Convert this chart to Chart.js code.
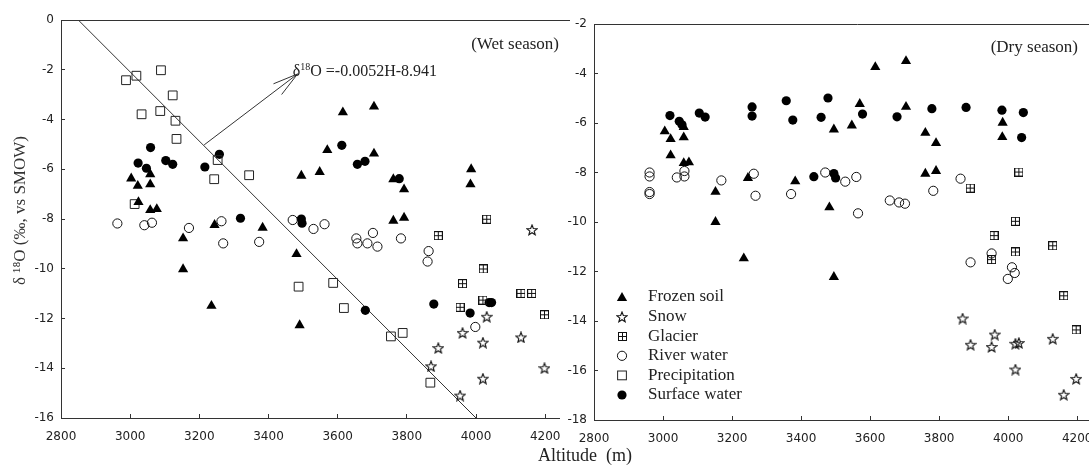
<!DOCTYPE html>
<html><head><meta charset="utf-8">
<script src="https://cdn.jsdelivr.net/npm/chart.js@4.4.1/dist/chart.umd.min.js"></script>
<style>
html,body{margin:0;padding:0;background:#fff;overflow:hidden;width:1089px;height:469px;}
#wrapL{position:absolute;left:0;top:0;width:580px;height:469px;}
#wrapR{position:absolute;left:560px;top:0;width:560px;height:469px;}
#xtitle{position:absolute;left:538px;top:445px;line-height:20px;font-family:'Liberation Serif','Times New Roman',serif;font-size:18px;color:#222;white-space:pre;}
</style></head><body>
<div id="wrapL"><canvas id="cL" width="580" height="469"></canvas></div>
<div id="wrapR"><canvas id="cR" width="560" height="469"></canvas></div>
<div id="xtitle">Altitude  (m)</div>
<script>
// ---------- tick labels ----------
const xTickValues = [2800, 3000, 3200, 3400, 3600, 3800, 4000, 4200];
const wetYTickValues = [0, -2, -4, -6, -8, -10, -12, -14, -16];
const dryYTickValues = [-2, -4, -6, -8, -10, -12, -14, -16, -18];
const seriesNames = ['Frozen soil', 'Snow', 'Glacier', 'River water', 'Precipitation', 'Surface water'];

// ---------- wet season ----------
const wetFrozenX = [3003, 3022, 3024, 3058, 3058, 3058, 3077, 3153, 3153, 3235, 3244, 3383, 3495, 3481, 3490, 3548, 3570, 3615, 3705, 3705, 3761, 3792, 3761, 3792, 3986, 3984];
const wetFrozenY = [-6.37, -6.67, -7.32, -6.2, -6.61, -7.64, -7.6, -8.78, -10.02, -11.49, -8.24, -8.35, -6.26, -9.41, -12.27, -6.11, -5.23, -3.71, -3.48, -5.37, -6.40, -6.81, -8.07, -7.95, -6.0, -6.61];
const wetSnowX = [3870, 3891, 3954, 3961, 4020, 4020, 4031, 4130, 4162, 4198];
const wetSnowY = [-13.92, -13.19, -15.1, -12.58, -12.97, -14.42, -11.93, -12.76, -8.44, -14.0];
const wetGlacierX = [3891, 3954, 3961, 4020, 4021, 4031, 4130, 4161, 4198];
const wetGlacierY = [-8.67, -11.55, -10.6, -11.26, -10.01, -8.01, -10.99, -10.99, -11.85];
const wetRiverX = [2963, 3041, 3063, 3170, 3264, 3269, 3373, 3470, 3530, 3562, 3654, 3657, 3686, 3702, 3715, 3783, 3860, 3863, 3998];
const wetRiverY = [-8.18, -8.25, -8.15, -8.36, -8.09, -8.98, -8.92, -8.04, -8.4, -8.21, -8.78, -8.98, -8.98, -8.56, -9.11, -8.78, -9.71, -9.29, -12.34];
const wetPrecipX = [2988, 3013, 3018, 3033, 3087, 3089, 3123, 3131, 3134, 3243, 3253, 3344, 3487, 3587, 3618, 3754, 3788, 3868];
const wetPrecipY = [-2.42, -7.40, -2.24, -3.79, -3.66, -2.02, -3.03, -4.05, -4.78, -6.40, -5.63, -6.24, -10.72, -10.57, -11.58, -12.72, -12.58, -14.58];
const wetSurfaceX = [3023, 3047, 3059, 3103, 3123, 3216, 3258, 3319, 3495, 3497, 3612, 3657, 3679, 3778, 3680, 3878, 3983, 4038, 4045];
const wetSurfaceY = [-5.75, -5.96, -5.13, -5.65, -5.80, -5.91, -5.40, -7.97, -8.0, -8.17, -5.04, -5.80, -5.68, -6.38, -11.67, -11.42, -11.78, -11.36, -11.36];
// fitted line (as drawn) and arrow annotation
const fitLineX = [2850, 4000];
const fitLineY = [0, -16];
const arrowX = [3214, 3484];
const arrowY = [-5.02, -2.17];
const equationPos = [3470, -2.09];

// ---------- dry season ----------
const dryFrozenX = [3005, 3022, 3022, 3060, 3060, 3060, 3075, 3152, 3152, 3234, 3246, 3383, 3495, 3482, 3495, 3547, 3570, 3615, 3704, 3704, 3760, 3791, 3760, 3791, 3984, 3983];
const dryFrozenY = [-6.34, -6.65, -7.31, -6.16, -6.58, -7.62, -7.59, -8.78, -10.0, -11.47, -8.22, -8.36, -6.26, -9.41, -12.22, -6.1, -5.23, -3.74, -3.5, -5.35, -6.4, -6.81, -8.05, -7.94, -5.99, -6.57];
const drySnowX = [3868, 3891, 3952, 3961, 4021, 4021, 4031, 4129, 4161, 4197];
const drySnowY = [-13.9, -14.96, -15.05, -14.55, -14.92, -15.96, -14.89, -14.72, -16.98, -16.34];
const dryGlacierX = [3890, 3952, 3959, 4021, 4021, 4031, 4129, 4161, 4197];
const dryGlacierY = [-8.63, -11.52, -10.55, -11.21, -9.97, -7.98, -10.96, -12.98, -14.36];
const dryRiverX = [2961, 2961, 2961, 2961, 3040, 3062, 3062, 3169, 3263, 3268, 3371, 3470, 3528, 3560, 3565, 3657, 3684, 3701, 3783, 3862, 3891, 3952, 4011, 4019, 3999];
const dryRiverY = [-8.0, -8.16, -8.79, -8.87, -8.2, -7.94, -8.16, -8.32, -8.05, -8.94, -8.87, -8.0, -8.37, -8.18, -9.65, -9.13, -9.21, -9.26, -8.74, -8.25, -11.63, -11.27, -11.83, -12.06, -12.3];
const dryPrecipX = [];
const dryPrecipY = [];
const drySurfaceX = [3020, 3047, 3055, 3105, 3122, 3258, 3258, 3357, 3376, 3437, 3458, 3478, 3495, 3500, 3578, 3678, 3779, 3878, 3982, 4044, 4039];
const drySurfaceY = [-5.70, -5.93, -6.07, -5.6, -5.76, -5.35, -5.72, -5.10, -5.88, -8.17, -5.77, -4.99, -8.04, -8.22, -5.64, -5.75, -5.42, -5.37, -5.48, -5.58, -6.59];

// ---------- marker images ----------
function makeStar() {
  const c = document.createElement('canvas'); c.width = 12; c.height = 12;
  const g = c.getContext('2d');
  g.strokeStyle = '#111'; g.lineWidth = 1.1; g.lineJoin = 'miter';
  g.beginPath();
  for (let i = 0; i < 10; i++) {
    const r = i % 2 === 0 ? 5.4 : 2.3;
    const a = -Math.PI / 2 + i * Math.PI / 5;
    const px = 6 + r * Math.cos(a), py = 6.4 + r * Math.sin(a);
    if (i === 0) g.moveTo(px, py); else g.lineTo(px, py);
  }
  g.closePath(); g.stroke();
  return c;
}
function makeGlacier() {
  const c = document.createElement('canvas'); c.width = 9; c.height = 9;
  const g = c.getContext('2d');
  g.strokeStyle = '#111'; g.lineWidth = 1;
  g.strokeRect(0.5, 0.5, 8, 8);
  g.beginPath(); g.moveTo(4.5, 0.5); g.lineTo(4.5, 8.5); g.moveTo(0.5, 4.5); g.lineTo(8.5, 4.5); g.stroke();
  return c;
}
const starImg = makeStar();
const glacierImg = makeGlacier();

const axisColor = '#333';
const tickColor = '#222';
const serif = "'Liberation Serif','Times New Roman',serif";

const styles = [
  { pointStyle: 'triangle', pointRadius: 5.9, backgroundColor: '#000', borderColor: '#000', borderWidth: 0 },
  { pointStyle: starImg, pointRadius: 6, backgroundColor: '#fff', borderColor: '#111', borderWidth: 1 },
  { pointStyle: glacierImg, pointRadius: 5, backgroundColor: '#fff', borderColor: '#111', borderWidth: 1 },
  { pointStyle: 'circle', pointRadius: 4.6, backgroundColor: 'rgba(0,0,0,0)', borderColor: '#111', borderWidth: 1 },
  { pointStyle: 'rect', pointRadius: 6.2, backgroundColor: 'rgba(0,0,0,0)', borderColor: '#222', borderWidth: 1 },
  { pointStyle: 'circle', pointRadius: 4.6, backgroundColor: '#000', borderColor: '#000', borderWidth: 0 }
];

function series(i, xs, ys) {
  return Object.assign({ label: seriesNames[i], data: xs.map((x, k) => ({ x: x, y: ys[k] })), pointHoverRadius: styles[i].pointRadius }, styles[i]);
}

// ---------- plugin: top border, labels, arrow, legend ----------
const extrasPlugin = {
  id: 'extras',
  afterDraw(chart, args, o) {
    const ctx = chart.ctx, a = chart.chartArea, xs = chart.scales.x, ys = chart.scales.y;
    ctx.save();
    // top frame line
    ctx.strokeStyle = axisColor; ctx.lineWidth = 1;
    const ty = Math.round(a.top) + 0.5;
    ctx.beginPath(); ctx.moveTo(a.left, ty); ctx.lineTo(a.right + o.topExtra, ty); ctx.stroke();
    // season label
    ctx.fillStyle = '#222';
    ctx.font = '17px ' + serif;
    ctx.textAlign = 'right'; ctx.textBaseline = 'middle';
    ctx.fillText(o.season, a.right + o.seasonDx, a.top + o.seasonDy);
    // arrow + equation
    if (o.arrow) {
      const x1 = xs.getPixelForValue(arrowX[0]), y1 = ys.getPixelForValue(arrowY[0]);
      const x2 = xs.getPixelForValue(arrowX[1]), y2 = ys.getPixelForValue(arrowY[1]);
      ctx.strokeStyle = '#333'; ctx.lineWidth = 1;
      ctx.beginPath(); ctx.moveTo(x1, y1); ctx.lineTo(x2, y2);
      const ang = Math.atan2(y1 - y2, x1 - x2);
      const L = 26, d = 15 * Math.PI / 180;
      ctx.moveTo(x2, y2); ctx.lineTo(x2 + L * Math.cos(ang - d), y2 + L * Math.sin(ang - d));
      ctx.moveTo(x2, y2); ctx.lineTo(x2 + L * Math.cos(ang + d), y2 + L * Math.sin(ang + d));
      ctx.stroke();
      let ex = xs.getPixelForValue(equationPos[0]);
      const ey = ys.getPixelForValue(equationPos[1]);
      ctx.textAlign = 'left'; ctx.fillStyle = '#222';
      ctx.font = '16px ' + serif;
      ctx.fillText('\u03B4', ex, ey); ex += ctx.measureText('\u03B4').width;
      ctx.font = '10px ' + serif;
      ctx.fillText('18', ex, ey - 5); ex += ctx.measureText('18').width;
      ctx.font = '16px ' + serif;
      ctx.fillText('O =-0.0052H-8.941', ex, ey);
    }
    // legend
    if (o.legend) {
      const mx = a.left + 28, tx = a.left + 54;
      chart.data.datasets.forEach((ds, i) => {
        if (i > 5) return;
        const y = a.bottom - 123 + i * 19.6;
        const st = ds.pointStyle;
        ctx.fillStyle = ds.backgroundColor; ctx.strokeStyle = ds.borderColor; ctx.lineWidth = ds.borderWidth || 1;
        if (st === 'triangle') {
          const r = ds.pointRadius;
          ctx.beginPath();
          for (let k = 0; k < 3; k++) {
            const an = k * 2 * Math.PI / 3;
            const px = mx + Math.sin(an) * r, py = y + 1 - Math.cos(an) * r;
            if (k === 0) ctx.moveTo(px, py); else ctx.lineTo(px, py);
          }
          ctx.closePath(); ctx.fill();
        } else if (st === 'circle') {
          ctx.beginPath(); ctx.arc(mx, y, ds.pointRadius, 0, 2 * Math.PI);
          ctx.fill(); if (ds.borderWidth) ctx.stroke();
        } else if (st === 'rect') {
          const s = ds.pointRadius * Math.SQRT1_2;
          ctx.strokeRect(mx - s, y - s, 2 * s, 2 * s);
        } else if (st instanceof HTMLCanvasElement) {
          ctx.drawImage(st, Math.round(mx - st.width / 2), Math.round(y - st.height / 2));
        }
        ctx.fillStyle = '#222';
        ctx.font = '17px ' + serif;
        ctx.textAlign = 'left'; ctx.textBaseline = 'middle';
        ctx.fillText(ds.label, tx, y);
      });
    }
    ctx.restore();
  }
};

function build(id, sets, yTicks, yMin, yMax, o) {
  return new Chart(document.getElementById(id), {
    type: 'scatter',
    data: { datasets: sets },
    options: {
      responsive: false, animation: false, events: [],
      layout: { padding: o.padding },
      plugins: { legend: { display: false }, tooltip: { enabled: false }, extras: o },
      scales: {
        x: {
          type: 'linear', min: 2800, max: 4240,
          afterBuildTicks: s => { s.ticks = xTickValues.map(v => ({ value: v })); },
          afterFit: s => { s.height = o.xHeight; },
          grid: { drawOnChartArea: false, drawTicks: true, tickLength: -4, color: axisColor, lineWidth: 1 },
          border: { display: true, color: axisColor, width: 1 },
          ticks: { font: { family: 'DejaVu Sans', size: 12 }, color: tickColor, padding: 16, maxRotation: 0, autoSkip: false, callback: v => String(v) }
        },
        y: {
          type: 'linear', min: yMin, max: yMax,
          afterBuildTicks: s => { s.ticks = yTicks.map(v => ({ value: v })); },
          afterFit: s => { s.width = o.yWidth; },
          grid: { drawOnChartArea: false, drawTicks: true, tickLength: -4, color: axisColor, lineWidth: 1 },
          border: { display: true, color: axisColor, width: 1 },
          ticks: { font: { family: 'DejaVu Sans', size: 12 }, color: tickColor, padding: 11, autoSkip: false, callback: v => String(v) },
          title: o.yTitle
        }
      }
    },
    plugins: [extrasPlugin]
  });
}

const wetSets = [
  series(0, wetFrozenX, wetFrozenY),
  series(1, wetSnowX, wetSnowY),
  series(2, wetGlacierX, wetGlacierY),
  series(3, wetRiverX, wetRiverY),
  series(4, wetPrecipX, wetPrecipY),
  series(5, wetSurfaceX, wetSurfaceY),
  { label: 'fit', data: fitLineX.map((x, k) => ({ x: x, y: fitLineY[k] })), showLine: true, borderColor: '#333', borderWidth: 1, pointRadius: 0, fill: false }
];
const drySets = [
  series(0, dryFrozenX, dryFrozenY),
  series(1, drySnowX, drySnowY),
  series(2, dryGlacierX, dryGlacierY),
  series(3, dryRiverX, dryRiverY),
  series(4, dryPrecipX, dryPrecipY),
  series(5, drySurfaceX, drySurfaceY)
];

build('cL', wetSets, wetYTickValues, -16, 0, {
  padding: { top: 20, right: 21, bottom: 0, left: 0 },
  xHeight: 51, yWidth: 61, topExtra: 11,
  season: '(Wet season)', seasonDx: 0, seasonDy: 25,
  arrow: true, legend: false,
  yTitle: { display: true, text: '\u2002\u2002\u03B4 \u00B9\u2078O (\u2030, vs SMOW)', color: '#333', font: { family: 'Liberation Serif', size: 17 }, padding: { top: 10, bottom: 0 } }
});
build('cR', drySets, dryYTickValues, -18, -2, {
  padding: { top: 24, right: 29, bottom: 0, left: 0 },
  xHeight: 49, yWidth: 34, topExtra: 30,
  season: '(Dry season)', seasonDx: -13, seasonDy: 24,
  arrow: false, legend: true,
  yTitle: { display: false }
});
</script>
</body></html>
